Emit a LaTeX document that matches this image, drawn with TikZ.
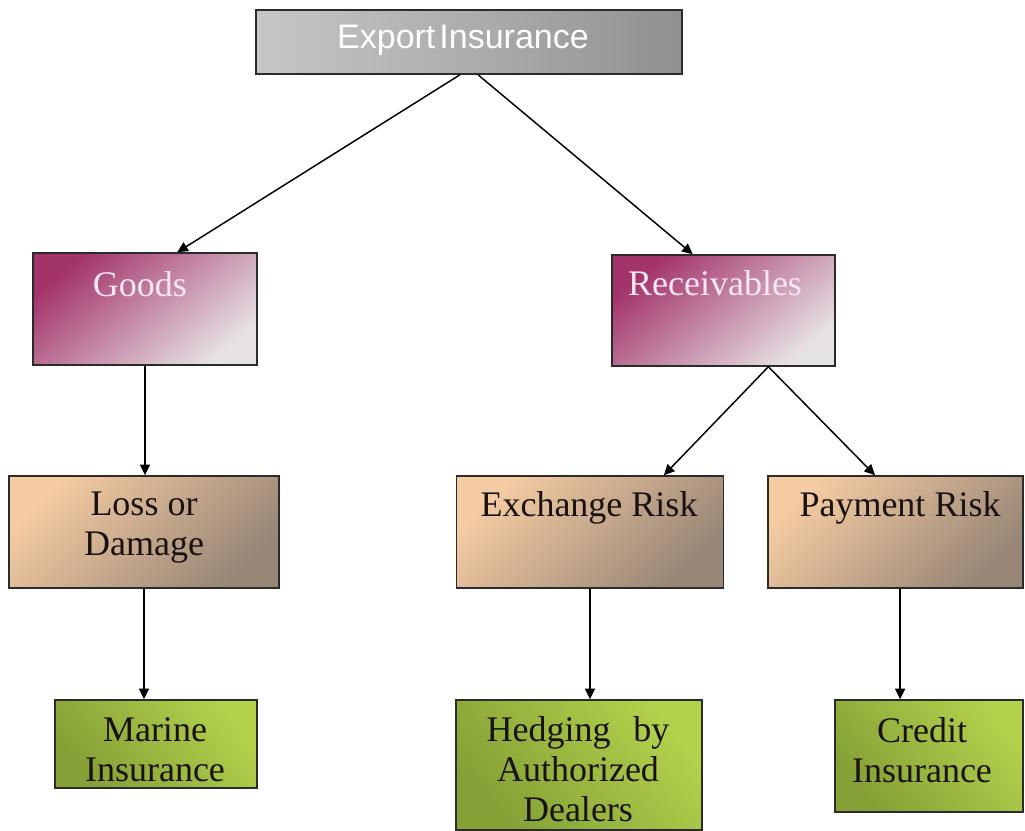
\documentclass[tikz,border=0pt]{standalone}
\usepackage{fontspec}
\setmainfont{Liberation Serif}
\newfontfamily\headfont{Liberation Sans}
\usetikzlibrary{arrows.meta,calc}

\definecolor{edge}{HTML}{2B2B2B}
\definecolor{greyL}{HTML}{C6C6C6}
\definecolor{greyM}{HTML}{ADADAD}
\definecolor{greyR}{HTML}{909090}
\definecolor{plumA}{HTML}{A3346A}
\definecolor{plumM}{HTML}{C5809F}
\definecolor{plumB}{HTML}{E6E1E4}
\definecolor{plumText}{HTML}{F8E6F2}
\definecolor{tanA}{HTML}{F4CBA2}
\definecolor{tanM}{HTML}{C4A58A}
\definecolor{tanB}{HTML}{988676}
\definecolor{limeA}{HTML}{B2D24C}
\definecolor{limeM}{HTML}{A2C044}
\definecolor{limeB}{HTML}{84A036}
\definecolor{ink}{HTML}{1A1212}

\tikzset{
  box/.style={draw=edge, line width=1.1pt, inner sep=0pt},
  topbox/.style={box, left color=greyL, right color=greyR, middle color=greyM},
  plumbox/.style={box, top color=plumA, middle color=plumM, bottom color=plumB, shading angle=40},
  tanbox/.style={box, top color=tanA, middle color=tanM, bottom color=tanB, shading angle=45},
  limebox/.style={box, top color=limeA, middle color=limeM, bottom color=limeB, shading angle=-50},
  serif/.style={font=\fontsize{27}{30}\selectfont, text=ink, align=center, inner sep=0pt},
  link/.style={draw=black, line width=1.1pt, -{Triangle[length=8pt,width=7.5pt]}}
}

\begin{document}
\begin{tikzpicture}[x=0.75pt,y=-0.75pt]
\useasboundingbox (0,0) rectangle (1025,831);

% boxes
\node[topbox, minimum width=426*0.75pt, minimum height=64*0.75pt] (exp) at (469,42) {};
\node[plumbox, minimum width=224*0.75pt, minimum height=112*0.75pt] (goods) at (145,309) {};
\node[plumbox, minimum width=223*0.75pt, minimum height=111*0.75pt] (rec) at (723.5,310.5) {};
\node[tanbox, minimum width=270*0.75pt, minimum height=112*0.75pt] (loss) at (144,532) {};
\node[tanbox, minimum width=267*0.75pt, minimum height=112*0.75pt] (exch) at (590,532) {};
\node[tanbox, minimum width=255*0.75pt, minimum height=112*0.75pt] (pay) at (895.5,532) {};
\node[limebox, minimum width=202*0.75pt, minimum height=88*0.75pt] (marine) at (156,744) {};
\node[limebox, minimum width=246*0.75pt, minimum height=130*0.75pt] (hedge) at (579,765) {};
\node[limebox, minimum width=188*0.75pt, minimum height=112*0.75pt] (credit) at (929,756) {};

% labels
\node[inner sep=0pt, text=white, font=\headfont\fontsize{25.5}{28}\selectfont] (expT) at (463,40) {Export\hspace{0.12em}Insurance};
\node[serif, text=plumText] (goodsT) at (140,284) {Goods};
\node[serif, text=plumText] (recT) at (715,283) {Receivables};
\node[serif] (lossT) at (144,528) {Loss or\\Damage};
\node[serif] (exchT) at (589,508) {Exchange Risk};
\node[serif] (payT) at (900,508) {Payment Risk};
\node[serif] (marineT) at (155,750) {Marine\\Insurance};
\node[serif] (hedgeT) at (578,769) {\makebox[137pt][s]{Hedging by}\\Authorized\\Dealers};
\node[serif] (creditT) at (922,750) {Credit\\Insurance};

% connectors
\draw[link] ($(exp.south west)!0.479!(exp.south east)$) -- ($(goods.north west)!0.643!(goods.north east)$);
\draw[link] ($(exp.south west)!0.521!(exp.south east)$) -- ($(rec.north west)!0.363!(rec.north east)$);
\draw[link] (goods.south) -- (goods.south |- loss.north);
\draw[link] ($(rec.south west)!0.70!(rec.south east)$) -- ($(exch.north west)!0.775!(exch.north east)$);
\draw[link] ($(rec.south west)!0.70!(rec.south east)$) -- ($(pay.north west)!0.42!(pay.north east)$);
\draw[link] (loss.south) -- (loss.south |- marine.north);
\draw[link] (exch.south) -- (exch.south |- hedge.north);
\coordinate (payout) at ($(pay.south west)!0.518!(pay.south east)$);
\draw[link] (payout) -- (payout |- credit.north);
\end{tikzpicture}
\end{document}
